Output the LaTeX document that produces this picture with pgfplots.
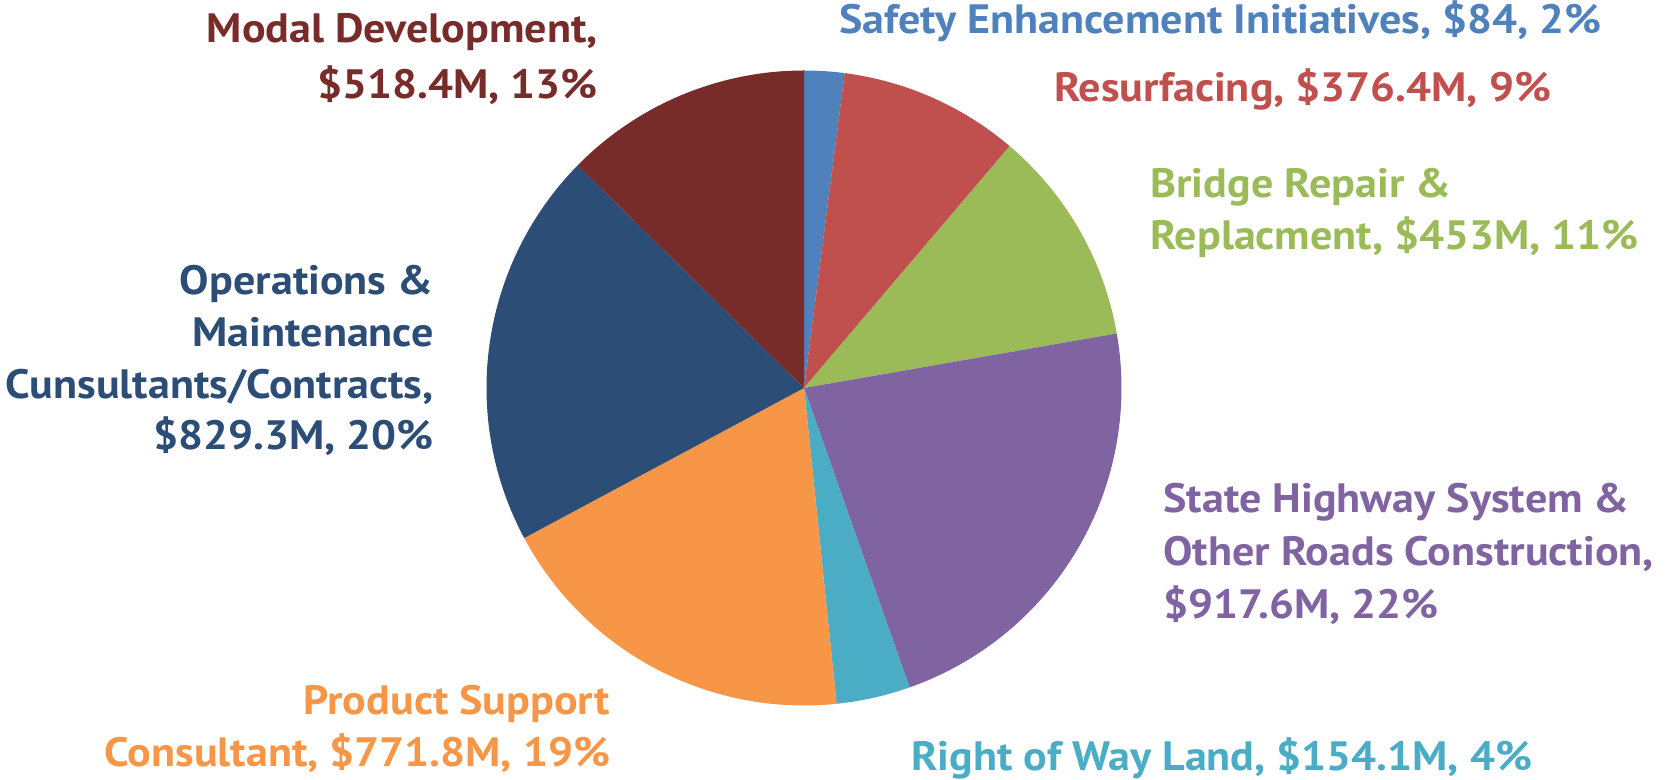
\documentclass[border=0pt]{standalone}
\usepackage{pgfplots}
\pgfplotsset{compat=1.18}
\usepackage{fontspec}
\setmainfont{PT Sans}[FakeStretch=1.075]
\definecolor{cSafety}{HTML}{4F81BD}
\definecolor{cResurf}{HTML}{C0504D}
\definecolor{cBridge}{HTML}{9BBB59}
\definecolor{cSHS}{HTML}{8064A2}
\definecolor{cROW}{HTML}{4BACC6}
\definecolor{cProd}{HTML}{F79646}
\definecolor{cOM}{HTML}{2C4D75}
\definecolor{cModal}{HTML}{772C2A}
% values in $M
\def\vA{84}\def\vB{376.4}\def\vC{453}\def\vD{917.6}
\def\vE{154.1}\def\vF{771.8}\def\vG{829.3}\def\vH{518.4}
\begin{document}
\begin{tikzpicture}
\pgfmathsetmacro\T{\vA+\vB+\vC+\vD+\vE+\vF+\vG+\vH}
\pgfmathsetmacro\aA{90}
\pgfmathsetmacro\aB{\aA-\vA/\T*360}
\pgfmathsetmacro\aC{\aB-\vB/\T*360}
\pgfmathsetmacro\aD{\aC-\vC/\T*360}
\pgfmathsetmacro\aE{\aD-\vD/\T*360}
\pgfmathsetmacro\aF{\aE-\vE/\T*360}
\pgfmathsetmacro\aG{\aF-\vF/\T*360}
\pgfmathsetmacro\aH{\aG-\vG/\T*360}
\pgfmathsetmacro\aI{-270}
\def\R{317.5}
\begin{axis}[
  width=832.5pt, height=390pt, scale only axis,
  xmin=-804, xmax=861, ymin=-392, ymax=388,
  hide axis, clip=false,
  every axis plot/.append style={draw=none, samples=80, data cs=polar},
]
\path (rel axis cs:0,0) rectangle (rel axis cs:1,1);
\addplot[fill=cSafety, domain=\aA:\aB] (x,\R) -- (axis cs:0,0) -- cycle;
\addplot[fill=cResurf, domain=\aB:\aC] (x,\R) -- (axis cs:0,0) -- cycle;
\addplot[fill=cBridge, domain=\aC:\aD] (x,\R) -- (axis cs:0,0) -- cycle;
\addplot[fill=cSHS,    domain=\aD:\aE] (x,\R) -- (axis cs:0,0) -- cycle;
\addplot[fill=cROW,    domain=\aE:\aF] (x,\R) -- (axis cs:0,0) -- cycle;
\addplot[fill=cProd,   domain=\aF:\aG] (x,\R) -- (axis cs:0,0) -- cycle;
\addplot[fill=cOM,     domain=\aG:\aH] (x,\R) -- (axis cs:0,0) -- cycle;
\addplot[fill=cModal,  domain=\aH:\aI] (x,\R) -- (axis cs:0,0) -- cycle;
\tikzset{lab/.style={font=\fontsize{20.5}{26}\selectfont\bfseries, inner sep=0pt}}
% x = px - 804 ; y = 388 - px
\node[lab, text=cSafety, anchor=base west] at (axis cs:35,354) {Safety Enhancement Initiatives, \$84, 2\%};
\node[lab, text=cResurf, anchor=base west] at (axis cs:250,286) {Resurfacing, \$376.4M, 9\%};
\node[lab, text=cBridge, anchor=base west] at (axis cs:346,190.5) {Bridge Repair \&};
\node[lab, text=cBridge, anchor=base west] at (axis cs:346,138.5) {Replacment, \$453M, 11\%};
\node[lab, text=cSHS, anchor=base west] at (axis cs:359,-125) {State Highway System \&};
\node[lab, text=cSHS, anchor=base west] at (axis cs:359,-178) {Other Roads Construction,};
\node[lab, text=cSHS, anchor=base west] at (axis cs:359,-231) {\$917.6M, 22\%};
\node[lab, text=cROW, anchor=base west] at (axis cs:107,-383) {Right of Way Land, \$154.1M, 4\%};
\node[lab, text=cProd, anchor=base east] at (axis cs:-193.5,-327) {Product Support};
\node[lab, text=cProd, anchor=base east] at (axis cs:-193.5,-379) {Consultant, \$771.8M, 19\%};
\node[lab, text=cOM, anchor=base east] at (axis cs:-370,93) {Operations \&};
\node[lab, text=cOM, anchor=base east] at (axis cs:-370,41) {Maintenance};
\node[lab, text=cOM, anchor=base east] at (axis cs:-370,-11) {Cunsultants/Contracts,};
\node[lab, text=cOM, anchor=base east] at (axis cs:-370,-62) {\$829.3M, 20\%};
\node[lab, text=cModal, anchor=base east] at (axis cs:-206,345.5) {Modal Development,};
\node[lab, text=cModal, anchor=base east] at (axis cs:-206,289) {\$518.4M, 13\%};
\end{axis}
\end{tikzpicture}
\end{document}
